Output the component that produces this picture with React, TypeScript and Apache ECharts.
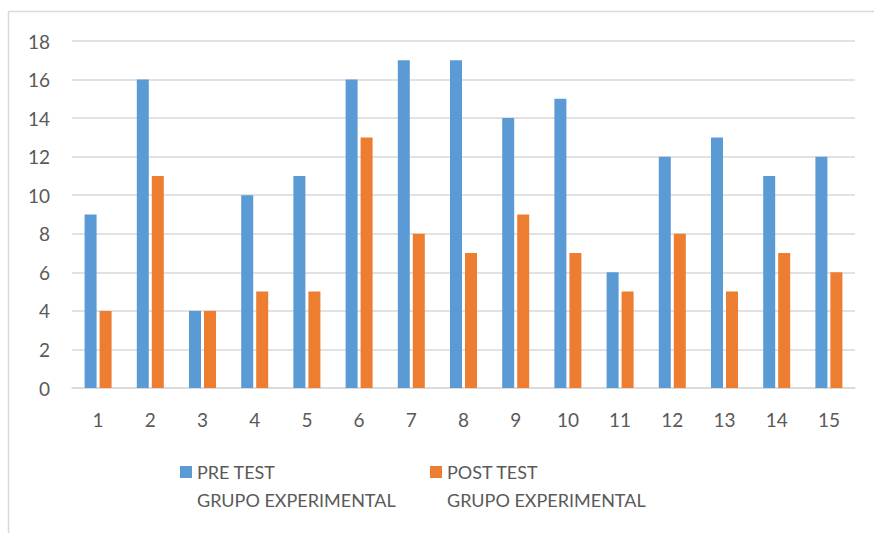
import React, { useEffect, useRef } from "react";
import * as echarts from "echarts";

const categories = ["1", "2", "3", "4", "5", "6", "7", "8", "9", "10", "11", "12", "13", "14", "15"];
const preTest = [9, 16, 4, 10, 11, 16, 17, 17, 14, 15, 6, 12, 13, 11, 12];
const postTest = [4, 11, 4, 5, 5, 13, 8, 7, 9, 7, 5, 8, 5, 7, 6];
const seriesNames = ["PRE TEST\nGRUPO EXPERIMENTAL", "POST TEST\nGRUPO EXPERIMENTAL"];

const FONT = "Lato";
const TEXT = "#595959";
const iconPath = "path://M0,0 L12,0 L12,12 L0,12 Z M0,39.99 L0.01,39.99 L0.01,40 L0,40 Z";

export default function App() {
  const ref = useRef<HTMLDivElement>(null);
  useEffect(() => {
    if (!ref.current) return;
    const chart = echarts.init(ref.current, undefined, { renderer: "svg" });
    chart.setOption({
      animation: false,
      backgroundColor: "#ffffff",
      textStyle: { fontFamily: FONT },
      graphic: [
        {
          type: "rect",
          shape: { x: 8.5, y: 11.5, width: 900, height: 600 },
          style: { fill: "none", stroke: "#D9D9D9", lineWidth: 1.5 },
          silent: true,
        },
      ],
      grid: { left: 72, right: 19, top: 41, bottom: 145 },
      legend: {
        left: 180,
        top: 458,
        padding: 0,
        itemWidth: 12,
        itemHeight: 40,
        itemGap: 20,
        icon: iconPath,
        textStyle: { color: TEXT, fontSize: 18, lineHeight: 28, fontFamily: FONT, width: 213, padding: 0 },
        data: seriesNames,
      },
      xAxis: {
        type: "category",
        data: categories,
        axisLine: { lineStyle: { color: "#D9D9D9", width: 1.5 } },
        axisTick: { show: false },
        axisLabel: { color: TEXT, fontSize: 19, margin: 22, fontFamily: FONT },
      },
      yAxis: {
        type: "value",
        min: 0,
        max: 18,
        interval: 2,
        axisLine: { show: false },
        axisTick: { show: false },
        splitLine: { lineStyle: { color: "#D9D9D9", width: 1.5 } },
        axisLabel: { color: TEXT, fontSize: 19, margin: 22, fontFamily: FONT },
      },
      series: [
        {
          name: seriesNames[0],
          type: "bar",
          data: preTest,
          itemStyle: { color: "#5B9BD5" },
          barWidth: 12,
          barGap: "25%",
        },
        {
          name: seriesNames[1],
          type: "bar",
          data: postTest,
          itemStyle: { color: "#ED7D31" },
          barWidth: 12,
          barGap: "25%",
        },
      ],
    });
    return () => chart.dispose();
  }, []);
  return <div ref={ref} style={{ position: "fixed", left: 0, top: 0, width: 874, height: 533 }} />;
}
